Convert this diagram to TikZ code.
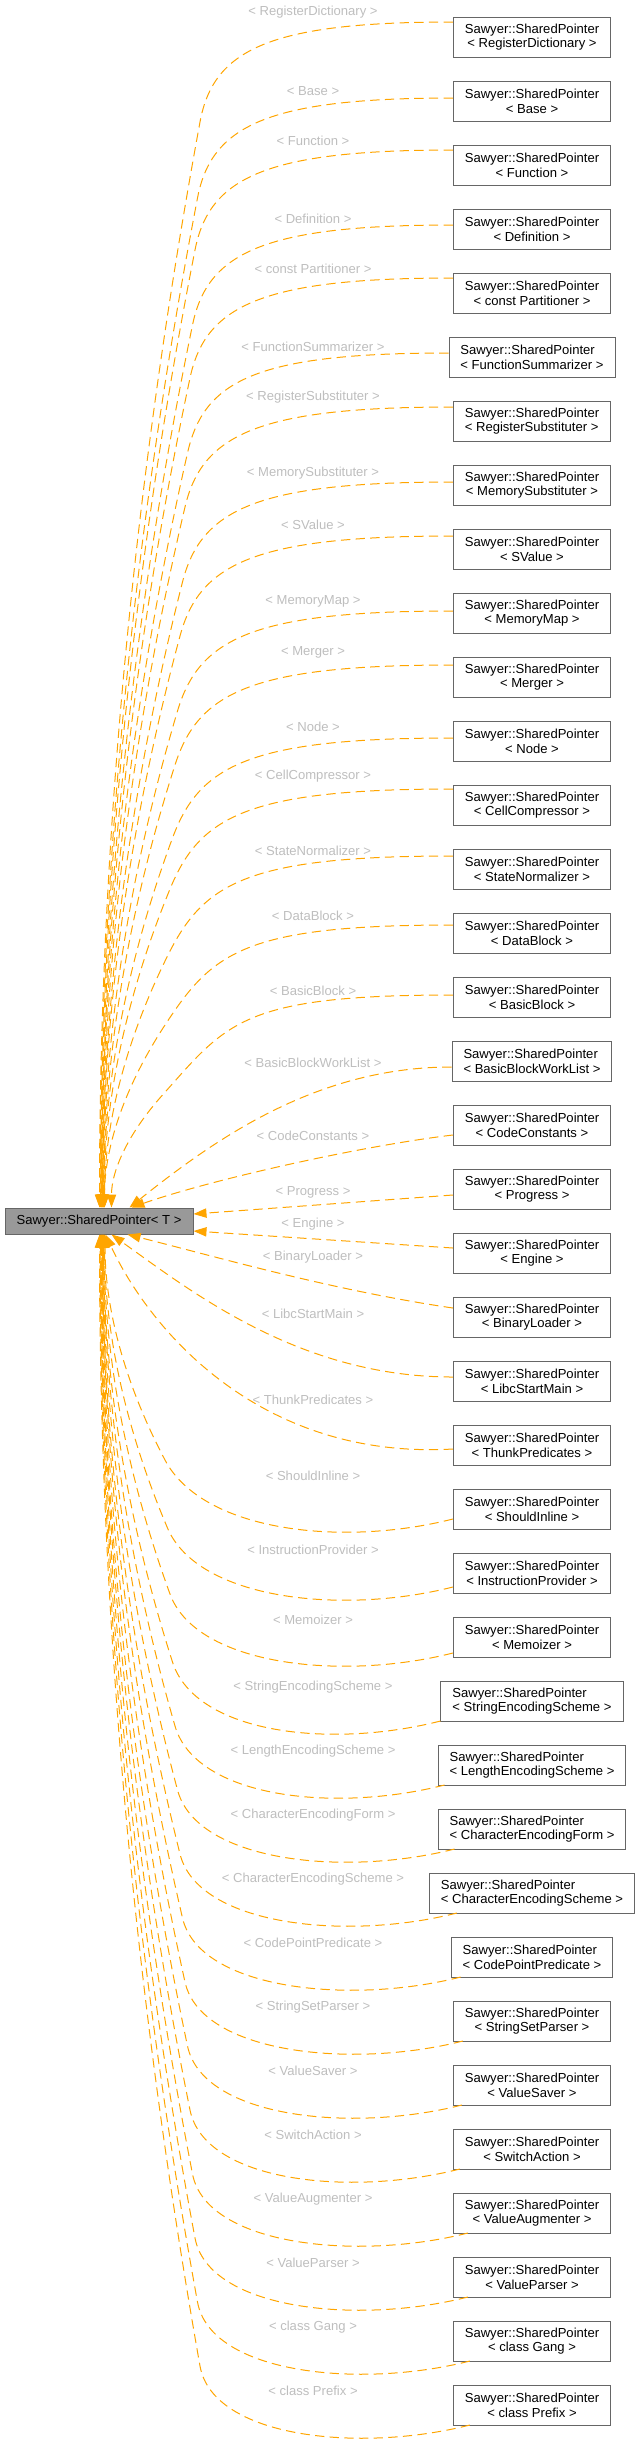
\documentclass[tikz,border=0pt]{standalone}
\usepackage{fontspec}
\setmainfont{Liberation Sans}
\usepackage{xcolor}
\usetikzlibrary{arrows.meta, calc, positioning}

\definecolor{edgeorange}{HTML}{FFA500}
\definecolor{tmplgray}{HTML}{BEBEBE}
\definecolor{framegray}{HTML}{666666}
\definecolor{basegray}{HTML}{999999}

\tikzset{
    ptrbox/.style={draw=framegray, fill=white, line width=0.75pt, inner xsep=8.6pt, inner ysep=2pt,
        minimum height=30pt, font=\fontsize{9.8}{11}\selectfont},
    basebox/.style={ptrbox, fill=basegray, minimum height=19.5pt, minimum width=141pt},
    tmpl/.style={text=tmplgray, inner sep=0pt, font=\fontsize{9.8}{11}\selectfont},
    dep/.style={draw=edgeorange, line width=0.75pt, dash pattern=on 7pt off 4pt,
        -{Triangle[length=9.75pt, width=7pt]}}
}

\begin{document}
\begin{tikzpicture}[x=0.75pt, y=-0.75pt]
    \useasboundingbox (0,0) rectangle (640,2449);

    % --- base template ---
    \node[basebox] (main) at (99,1221) {Sawyer::SharedPointer< T >};

    % --- instances, one row every 64px, with their template labels ---
    \foreach \i/\nm/\al/\ly in {0/RegisterDictionary/center/12, 1/Base/center/91, 2/Function/center/141,
        3/Definition/center/219, 4/const Partitioner/center/269, 5/FunctionSummarizer/left/347,
        6/RegisterSubstituter/left/397, 7/MemorySubstituter/center/473, 8/SValue/center/525,
        9/MemoryMap/center/601, 10/Merger/center/652, 11/Node/center/727, 12/CellCompressor/center/776,
        13/StateNormalizer/center/851, 14/DataBlock/center/916, 15/BasicBlock/center/991,
        16/BasicBlockWorkList/left/1063, 17/CodeConstants/center/1136, 18/Progress/center/1192,
        19/Engine/center/1224, 20/BinaryLoader/center/1257, 21/LibcStartMain/center/1314,
        22/ThunkPredicates/center/1400, 23/ShouldInline/center/1476, 24/InstructionProvider/center/1550,
        25/Memoizer/center/1620, 26/StringEncodingScheme/left/1687, 27/LengthEncodingScheme/left/1751,
        28/CharacterEncodingForm/left/1815, 29/CharacterEncodingScheme/left/1879,
        30/CodePointPredicate/left/1943, 31/StringSetParser/center/2007, 32/ValueSaver/center/2071,
        33/SwitchAction/center/2135, 34/ValueAugmenter/center/2199, 35/ValueParser/center/2263,
        36/class Gang/center/2327, 37/class Prefix/center/2391} {
        \node[ptrbox, align=\al] (b\i) at (532,{37+64*\i}) {Sawyer::SharedPointer\\< \nm{} >};
        \node[tmpl] (t\i) at (313,\ly) {< \nm{} >};
    }

    % --- upper fan: into the top of the base ---
    \foreach \i/\off/\tx in {0/-15/100, 1/-3/100.5, 2/-15/101, 3/-4/101.5, 4/-15/102, 5/-4/102,
        6/-14/102.5, 7/-3/103, 8/-13/103, 9/-2/103.5, 10/-12/104, 11/-3/104, 12/-16/104.5,
        13/-13/105, 14/-8/105, 15/-2/112} {
        \pgfmathsetmacro{\sy}{37+64*\i+\off}
        \pgfmathsetmacro{\kx}{200-2.5*\i}
        \pgfmathsetmacro{\ky}{\sy+100}
        \pgfmathsetmacro{\len}{1208-\ky}
        \pgfmathsetmacro{\amp}{\kx-\tx}
        \pgfmathsetmacro{\slope}{2*\amp/\len}
        \draw[dep] ($(b\i.west)+(0,\off)$)
            .. controls +({-0.73*(453-\kx)},0) and +({72*\slope},-72) .. (\kx,\ky)
            .. controls +({-2*\amp/3},{\len/3}) and +(0,{-\len/3}) .. ($(main.north west)+(\tx-5,0)$);
    }

    % --- middle edges ---
    \draw[dep] ($(b16.west)+(0,6)$) .. controls (320,1067) and (220,1135) .. ($(main.north west)+(125,0)$);
    \draw[dep] ($(b17.west)+(0,10)$) .. controls (360,1146) and (210,1180) .. ($(main.north west)+(127,0)$);
    \draw[dep] ($(b18.west)+(0,6)$) -- ($(main.east)+(0,-7)$);
    \draw[dep] ($(b19.west)+(0,-5)$) -- ($(main.east)+(0,10)$);
    \draw[dep] ($(b20.west)+(0,-9)$) .. controls (330,1290) and (210,1255) .. ($(main.south west)+(123,0)$);
    \draw[dep] ($(b21.west)+(0,-4)$) .. controls (300,1377) and (192,1292) .. ($(main.south west)+(107,0)$);
    \draw[dep] ($(b22.west)+(0,4)$) .. controls (260,1460) and (150,1330) .. ($(main.south west)+(101,0)$);

    % --- lower fan: into the bottom of the base ---
    \foreach \i/\dx/\dy/\tx in {23/0/10/105.5, 24/0/14/105, 25/0/16/104.5, 26/0/20/104, 27/7/20/104,
        28/17/20/103.5, 29/28/20/103, 30/10/20/103, 31/10/20/102.5, 32/9/20/102, 33/7/20/102,
        34/15/20/101.5, 35/15/20/101, 36/17/20/100.5, 37/17/20/100} {
        \pgfmathsetmacro{\ey}{37+64*\i+\dy}
        \pgfmathsetmacro{\kx}{200-2.5*(37-\i)}
        \pgfmathsetmacro{\ky}{\ey-59}
        \pgfmathsetmacro{\len}{\ky-1234}
        \pgfmathsetmacro{\amp}{\kx-\tx}
        \pgfmathsetmacro{\slope}{2*\amp/\len}
        \draw[dep] ($(b\i.west)+(\dx,\dy)$)
            .. controls +(-110,28) and +({72*\slope},72) .. (\kx,\ky)
            .. controls +({-2*\amp/3},{-\len/3}) and +(0,{\len/3}) .. ($(main.south west)+(\tx-5,0)$);
    }
\end{tikzpicture}
\end{document}
